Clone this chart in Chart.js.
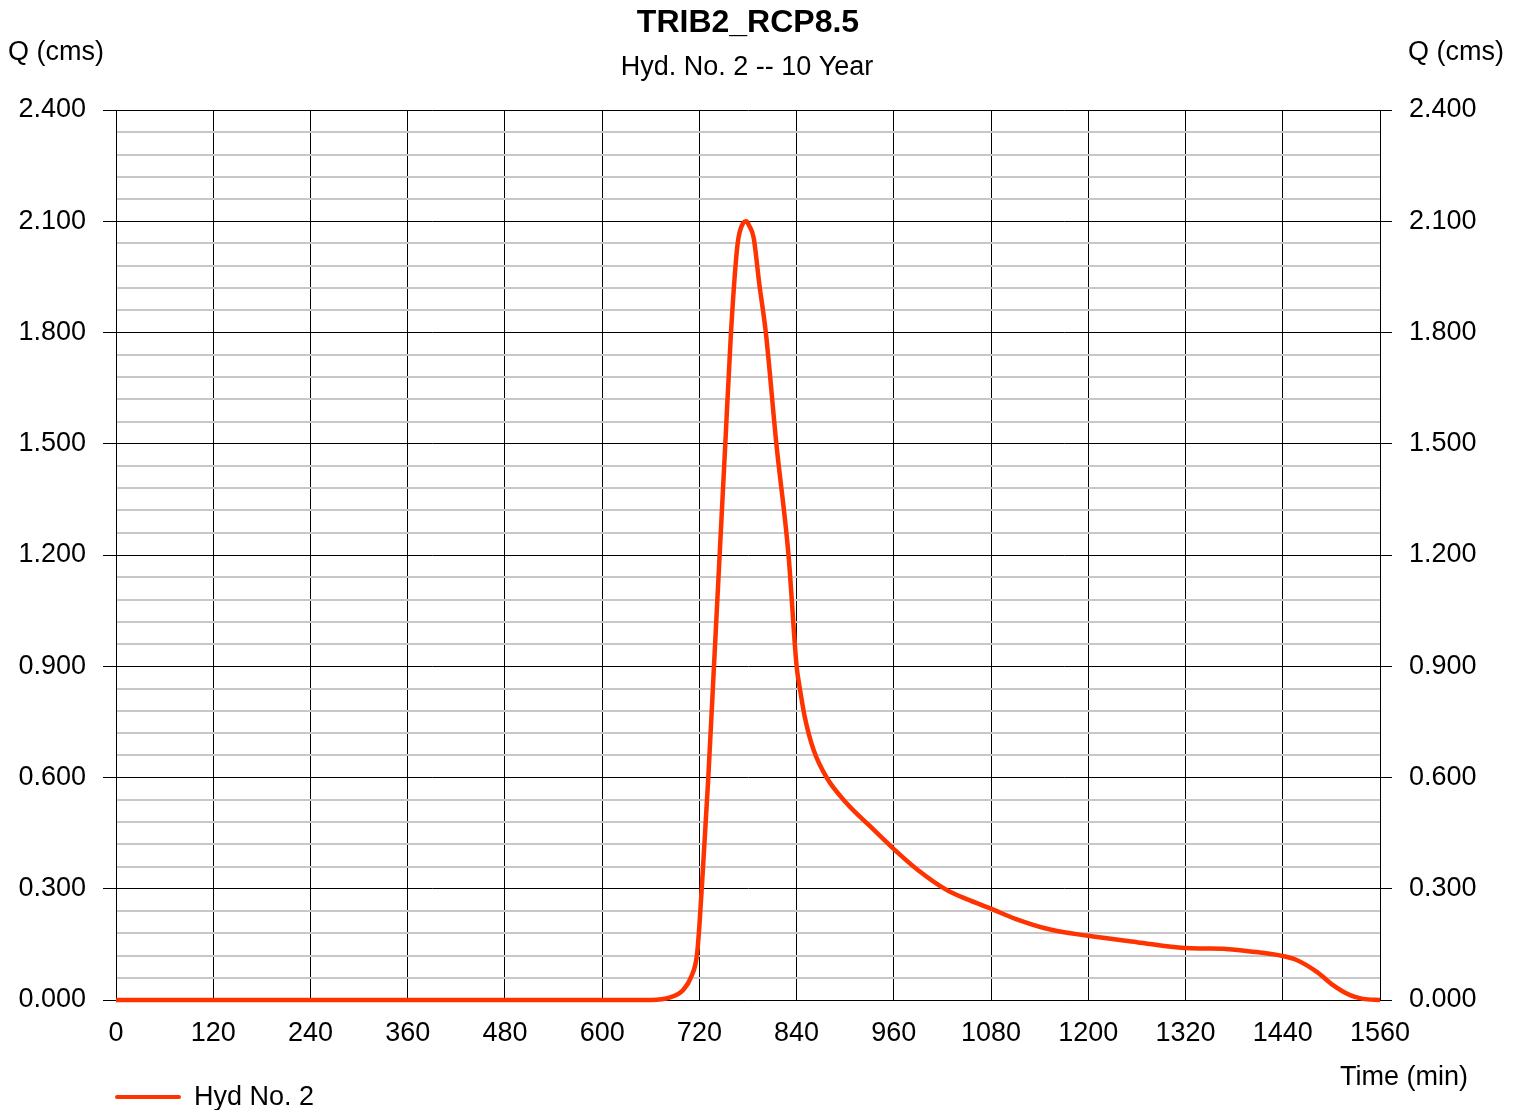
<!DOCTYPE html>
<html>
<head>
<meta charset="utf-8">
<script src="https://cdn.jsdelivr.net/npm/chart.js@4"></script>
<style>
  html, body { margin: 0; padding: 0; background: #fff; }
  #wrap { width: 1520px; height: 1110px; }
</style>
</head>
<body>
<div id="wrap"><canvas id="hydroChart" width="1520" height="1110"></canvas></div>
<script>
// hydrograph
var times = [0, 600, 660, 684, 700, 710, 717, 720, 724, 731, 738, 745, 752, 759, 767, 774, 778, 781, 787, 794,
    802, 815, 830, 840, 844, 850, 861, 877, 902, 930, 959, 990, 1025, 1050, 1079, 1110, 1153, 1200, 1260, 1319, 1345, 1367,
    1400, 1439, 1457, 1482, 1502, 1523, 1539, 1560];
var flows = [0, 0, 0, 0.007, 0.027, 0.063, 0.121, 0.20, 0.34, 0.60, 0.90, 1.20, 1.50, 1.80, 2.036, 2.095, 2.10, 2.09, 2.055, 1.93,
    1.80, 1.50, 1.20, 0.90, 0.84, 0.764, 0.674, 0.600, 0.530, 0.47, 0.409, 0.35, 0.297, 0.272, 0.247, 0.219, 0.190, 0.173, 0.156, 0.140, 0.139, 0.138,
    0.131, 0.119, 0.108, 0.076, 0.040, 0.013, 0.003, 0];
var xTicks = [0, 120, 240, 360, 480, 600, 720, 840, 960, 1080, 1200, 1320, 1440, 1560];
var yTicks = [0, 0.3, 0.6, 0.9, 1.2, 1.5, 1.8, 2.1, 2.4];

var chartTitle = 'TRIB2_RCP8.5';
var chartSubtitle = 'Hyd. No. 2 -- 10 Year';
var seriesName = 'Hyd No. 2';
var FONT = '"Liberation Sans", Arial, sans-serif';
var lineColor = '#ff3300';

function isMajor(v) {
    return yTicks.some(function (t) { return Math.abs(t - v) < 1e-6; });
}

var points = times.map(function (t, i) { return { x: t, y: flows[i] }; });

var yCommon = {
    type: 'linear',
    min: 0,
    max: 2.4,
    afterBuildTicks: function (scale) {
        var list = [];
        for (var i = 0; i <= 40; i++) list.push({ value: Math.round(i * 6) / 100 });
        scale.ticks = list;
    },
    ticks: {
        color: '#000',
        font: { family: FONT, size: 27 },
        padding: 17,
        autoSkip: false,
        callback: function (v) { return isMajor(v) ? v.toFixed(3) : ''; }
    },
    border: { color: '#000', width: 1 }
};

var extras = {
    id: 'extras',
    afterDraw: function (chart) {
        var ctx = chart.ctx;
        ctx.save();
        ctx.fillStyle = '#000';
        ctx.textBaseline = 'middle';
        ctx.textAlign = 'center';
        ctx.font = 'bold 32px ' + FONT;
        ctx.fillText(chartTitle, 748, 23);
        ctx.font = '27px ' + FONT;
        ctx.fillText(chartSubtitle, 747, 68);
        ctx.textAlign = 'left';
        ctx.fillText('Q (cms)', 8, 53);
        ctx.textAlign = 'right';
        ctx.fillText('Q (cms)', 1504, 53);
        ctx.fillText('Time (min)', 1468, 1078);
        // legend
        ctx.strokeStyle = lineColor;
        ctx.lineWidth = 4;
        ctx.lineCap = 'round';
        ctx.beginPath();
        ctx.moveTo(117, 1097);
        ctx.lineTo(179, 1097);
        ctx.stroke();
        ctx.textAlign = 'left';
        ctx.fillText(seriesName, 194, 1098);
        ctx.restore();
    }
};

var ctx = document.getElementById('hydroChart').getContext('2d');
new Chart(ctx, {
    type: 'line',
    data: {
        datasets: [{
            label: seriesName,
            data: points,
            borderColor: lineColor,
            borderWidth: 4.5,
            pointRadius: 0,
            fill: false,
            cubicInterpolationMode: 'monotone',
            clip: false
        }]
    },
    options: {
        responsive: false,
        animation: false,
        devicePixelRatio: 1,
        layout: { padding: { top: 110, left: 0, right: 0, bottom: 0 } },
        plugins: {
            legend: { display: false },
            title: { display: false },
            tooltip: { enabled: false }
        },
        scales: {
            x: {
                type: 'linear',
                min: 0,
                max: 1560,
                afterBuildTicks: function (scale) {
                    scale.ticks = xTicks.map(function (v) { return { value: v }; });
                },
                afterFit: function (scale) { scale.height = 110; },
                ticks: {
                    color: '#000',
                    font: { family: FONT, size: 27 },
                    padding: 17,
                    maxRotation: 0,
                    autoSkip: false,
                    callback: function (v) { return String(v); }
                },
                grid: { color: '#000', lineWidth: 1, drawTicks: false },
                border: { color: '#000', width: 1 }
            },
            y: Object.assign({}, yCommon, {
                position: 'left',
                afterFit: function (scale) { scale.width = 116; },
                grid: {
                    drawOnChartArea: true,
                    tickLength: 13,
                    color: function (c) { return isMajor(c.tick.value) ? '#000' : '#c8c8c8'; },
                    lineWidth: function (c) { return isMajor(c.tick.value) ? 1 : 2; },
                    tickColor: function (c) { return isMajor(c.tick.value) ? '#000' : 'rgba(0,0,0,0)'; }
                }
            }),
            y2: Object.assign({}, yCommon, {
                position: 'right',
                afterFit: function (scale) { scale.width = 140; },
                grid: {
                    drawOnChartArea: false,
                    tickLength: 12,
                    tickColor: function (c) { return isMajor(c.tick.value) ? '#000' : 'rgba(0,0,0,0)'; }
                }
            })
        }
    },
    plugins: [extras]
});
</script>
</body>
</html>
